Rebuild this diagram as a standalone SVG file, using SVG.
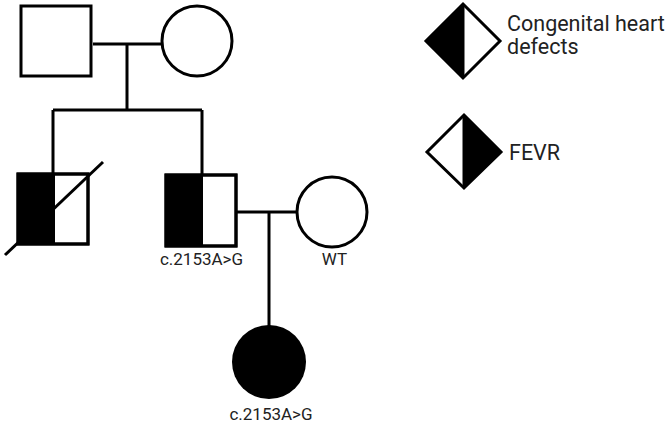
<svg xmlns="http://www.w3.org/2000/svg" width="669" height="425" viewBox="0 0 669 425">
<style>
.s{fill:#fff;stroke:#000;stroke-width:3}
.f{fill:#000;stroke:none}
.o{fill:none;stroke:#000;stroke-width:3}
.l{fill:none;stroke:#000;stroke-width:3}
text{font-family:Roboto,"Liberation Sans",sans-serif;fill:#222}
.lab{font-size:17px;text-anchor:middle}
.leg{font-size:21.5px}
</style>
<rect width="669" height="425" fill="#fff"/>
<g id="connectors">
<path class="l" d="M93 44H161M127 44V110M53 110H202M53 110V174M202 110V175M237 212H297M269 212V326"/>
</g>
<g id="father"><rect class="s" x="21" y="6" width="70" height="70"/></g>
<g id="mother"><circle class="s" cx="197" cy="41" r="35"/></g>
<g id="child1">
<rect class="s" x="18" y="174" width="70" height="70"/>
<rect class="f" x="18" y="174" width="37" height="70"/>
<rect class="o" x="18" y="174" width="70" height="70"/>
<line class="l" x1="5" y1="255" x2="103" y2="162"/>
</g>
<g id="child2">
<rect class="s" x="166" y="175" width="70" height="71"/>
<rect class="f" x="166" y="175" width="37" height="71"/>
<rect class="o" x="166" y="175" width="70" height="71"/>
<text class="lab" x="201.5" y="265">c.2153A&gt;G</text>
</g>
<g id="spouse">
<circle class="s" cx="332" cy="212" r="35"/>
<text class="lab" x="334.5" y="265">WT</text>
</g>
<g id="daughter">
<circle cx="269" cy="362" r="37" fill="#000"/>
<text class="lab" x="271" y="420">c.2153A&gt;G</text>
</g>
<g id="legend-chd">
<polygon points="463,4 500,41 463,78" fill="#fff"/>
<polygon points="463,4 426,41 463,78" fill="#000"/>
<polygon class="o" points="463,4 500,41 463,78 426,41"/>
<line class="l" x1="463" y1="4" x2="463" y2="78"/>
<text class="leg" x="507" y="31">Congenital heart</text>
<text class="leg" x="507" y="54">defects</text>
</g>
<g id="legend-fevr">
<polygon points="464,115 427,152 464,188" fill="#fff"/>
<polygon points="464,115 501,152 464,188" fill="#000"/>
<polygon class="o" points="464,115 501,152 464,188 427,152"/>
<line class="l" x1="464" y1="115" x2="464" y2="188"/>
<text class="leg" x="509" y="160">FEVR</text>
</g>
</svg>
